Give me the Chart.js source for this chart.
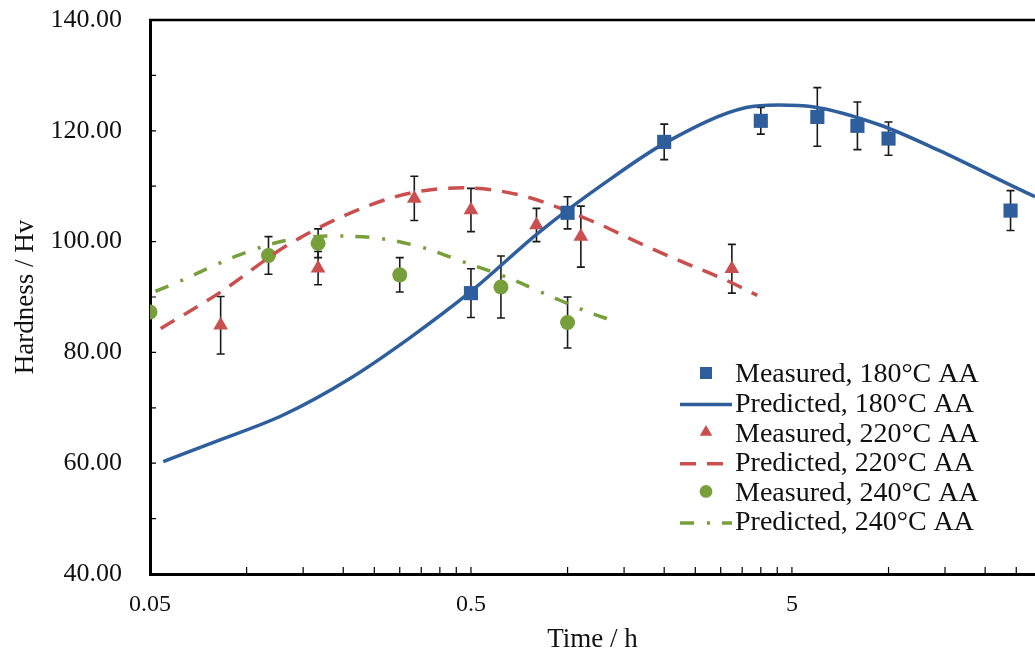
<!DOCTYPE html>
<html>
<head>
<meta charset="utf-8">
<script src="https://cdn.jsdelivr.net/npm/chart.js@4.4.0/dist/chart.umd.min.js"></script>
<style>
  html, body { margin: 0; padding: 0; background: #fff; }
  #wrap { width: 1035px; height: 659px; }
</style>
</head>
<body>
<div id="wrap"><canvas id="myChart"></canvas></div>
<script>
// measured hardness with error bars, time in hours
var time180 = [0.5, 1, 2, 4, 6, 8, 10, 24];
var hard180 = [90.7, 105.2, 118.0, 121.8, 122.5, 120.9, 118.6, 105.6];
var err180 = [4.4, 2.9, 3.2, 2.4, 5.3, 4.3, 3.0, 3.6];

var time220 = [0.083, 0.167, 0.333, 0.5, 0.8, 1.1, 3.25];
var hard220 = [84.9, 95.2, 107.8, 105.7, 103.0, 100.9, 95.1];
var err220 = [5.2, 3.0, 4.0, 3.9, 3.0, 5.5, 4.4];

var time240 = [0.05, 0.117, 0.167, 0.3, 0.62, 1.0];
var hard240 = [87.3, 97.5, 99.7, 94.0, 91.8, 85.4];
var err240 = [0, 3.4, 2.6, 3.1, 5.6, 4.6];

// predicted curves
var predTime180 = [0.055, 0.08, 0.13, 0.21, 0.32, 0.5, 0.82, 1.3, 2.04, 3.6, 4.55, 5.8, 9.4, 14.3, 24, 28.6];
var predHard180 = [60.3, 63.9, 68.7, 75.3, 82.5, 91.0, 101.8, 110.5, 118.0, 124.2, 124.65, 124.35, 121.05, 116.5, 110.2, 108.1];

var predTime220 = [0.054, 0.082, 0.137, 0.24, 0.34, 0.47, 0.71, 1.17, 1.68, 2.1, 3.1, 3.9];
var predHard220 = [84.3, 90.7, 99.7, 106.5, 109.0, 109.7, 108.4, 103.9, 99.7, 97.2, 93.1, 90.3];

var predTime240 = [0.052, 0.06, 0.095, 0.13, 0.18, 0.25, 0.35, 0.47, 0.65, 0.88, 1.17, 1.37];
var predHard240 = [91.0, 92.5, 97.6, 100.1, 101.0, 100.7, 99.0, 96.4, 93.5, 90.2, 87.2, 85.8];

// axis ticks
var xTickValues = [0.05, 0.1, 0.15, 0.2, 0.25, 0.3, 0.35, 0.4, 0.45, 0.5, 1, 1.5, 2, 2.5, 3, 3.5, 4, 4.5, 5, 10, 15, 20, 25];
var xMajor = [0.05, 0.5, 5];
var xTickLabels = ["0.05", "0.5", "5"];
var yTickValues = [40, 50, 60, 70, 80, 90, 100, 110, 120, 130, 140];
var yTickLabels = ["40.00", "", "60.00", "", "80.00", "", "100.00", "", "120.00", "", "140.00"];

var blue = "#2f5e9c", red = "#c9504e", green = "#77a03b";

function pts(xs, ys) {
  return xs.map(function (t, i) { return {x: t, y: ys[i]}; });
}

function marker(ctx, style, x, y, r) {
  ctx.beginPath();
  if (style === "rect") {
    var s = r * Math.SQRT1_2;
    ctx.rect(x - s, y - s, 2 * s, 2 * s);
  } else if (style === "triangle") {
    ctx.moveTo(x, y - r);
    ctx.lineTo(x + r * 0.866, y + r / 2);
    ctx.lineTo(x - r * 0.866, y + r / 2);
    ctx.closePath();
  } else {
    ctx.arc(x, y, r, 0, Math.PI * 2);
  }
  ctx.fill();
}

// no extra room for half labels, keep the plot box fixed
function noPad(s) {
  s.paddingTop = 0; s.paddingBottom = 0; s.paddingLeft = 0; s.paddingRight = 0;
}

var errorBars = {
  id: "errorBars",
  beforeDatasetsDraw: function (chart) {
    var ctx = chart.ctx, xs = chart.scales.x, ys = chart.scales.y;
    ctx.save();
    ctx.strokeStyle = "#1a1a1a";
    ctx.lineWidth = 1.6;
    chart.data.datasets.forEach(function (ds) {
      if (!ds.errors) return;
      ds.data.forEach(function (p, i) {
        var e = ds.errors[i];
        if (!e) return;
        var px = xs.getPixelForValue(p.x);
        var top = ys.getPixelForValue(p.y + e), bot = ys.getPixelForValue(p.y - e);
        ctx.beginPath();
        ctx.moveTo(px, top); ctx.lineTo(px, bot);
        ctx.moveTo(px - 4, top); ctx.lineTo(px + 4, top);
        ctx.moveTo(px - 4, bot); ctx.lineTo(px + 4, bot);
        ctx.stroke();
      });
    });
    ctx.restore();
  }
};

var frame = {
  id: "frame",
  afterDraw: function (chart) {
    var ctx = chart.ctx, a = chart.chartArea;
    var xs = chart.scales.x, ys = chart.scales.y;
    ctx.save();
    ctx.strokeStyle = "#000";
    ctx.lineWidth = 2.5;
    ctx.beginPath();
    ctx.moveTo(a.left - 1, a.top);
    ctx.lineTo(a.right, a.top);
    ctx.stroke();
    ctx.lineWidth = 1.2;
    ctx.beginPath();
    ys.ticks.forEach(function (t) {
      var py = ys.getPixelForValue(t.value);
      ctx.moveTo(a.left, py); ctx.lineTo(a.left + 6, py);
    });
    xs.ticks.forEach(function (t) {
      var px = xs.getPixelForValue(t.value);
      ctx.moveTo(px, a.bottom); ctx.lineTo(px, a.bottom - 7);
    });
    ctx.stroke();
    ctx.restore();
  }
};

var legendBox = {
  id: "legendBox",
  afterDraw: function (chart) {
    var ctx = chart.ctx, a = chart.chartArea;
    var x0 = a.right - 355, y0 = a.bottom - 199, rowH = 29.6;
    ctx.save();
    ctx.font = '28px "Liberation Serif"';
    ctx.textBaseline = "middle";
    chart.data.datasets.forEach(function (ds, i) {
      var cy = y0 + i * rowH;
      if (ds.showLine) {
        ctx.strokeStyle = ds.borderColor;
        ctx.lineWidth = ds.borderWidth;
        ctx.setLineDash(ds.borderDash || []);
        ctx.beginPath();
        ctx.moveTo(x0, cy); ctx.lineTo(x0 + 52, cy);
        ctx.stroke();
        ctx.setLineDash([]);
      } else {
        ctx.fillStyle = ds.backgroundColor;
        marker(ctx, ds.pointStyle, x0 + 26, cy - 2, ds.pointRadius * 0.85);
      }
      ctx.fillStyle = "#111";
      ctx.fillText(ds.label, x0 + 55, cy);
    });
    ctx.restore();
  }
};

new Chart("myChart", {
  type: "scatter",
  data: {
    datasets: [{
      label: "Measured, 180°C AA",
      data: pts(time180, hard180),
      errors: err180,
      pointStyle: "rect",
      pointRadius: 10,
      backgroundColor: blue,
      borderWidth: 0
    }, {
      label: "Predicted, 180°C AA",
      data: pts(predTime180, predHard180),
      showLine: true,
      borderColor: blue,
      borderWidth: 3.5,
      pointRadius: 0,
      cubicInterpolationMode: "monotone"
    }, {
      label: "Measured, 220°C AA",
      data: pts(time220, hard220),
      errors: err220,
      pointStyle: "triangle",
      pointRadius: 8.5,
      backgroundColor: red,
      borderWidth: 0
    }, {
      label: "Predicted, 220°C AA",
      data: pts(predTime220, predHard220),
      showLine: true,
      borderColor: red,
      borderWidth: 3.5,
      borderDash: [16, 11],
      pointRadius: 0,
      cubicInterpolationMode: "monotone"
    }, {
      label: "Measured, 240°C AA",
      data: pts(time240, hard240),
      errors: err240,
      pointStyle: "circle",
      pointRadius: 7.5,
      backgroundColor: green,
      borderWidth: 0
    }, {
      label: "Predicted, 240°C AA",
      data: pts(predTime240, predHard240),
      showLine: true,
      borderColor: green,
      borderWidth: 3.5,
      borderDash: [14, 13, 3, 12],
      pointRadius: 0,
      cubicInterpolationMode: "monotone"
    }]
  },
  options: {
    responsive: true,
    maintainAspectRatio: false,
    animation: false,
    layout: {autoPadding: false, padding: {top: 20, right: 0, left: 0, bottom: 0}},
    plugins: {
      legend: {display: false},
      tooltip: {enabled: false}
    },
    scales: {
      x: {
        type: "logarithmic",
        min: 0.05,
        max: 28.6,
        afterBuildTicks: function (s) { s.ticks = xTickValues.map(function (v) { return {value: v}; }); },
        afterFit: function (s) { s.height = 85; noPad(s); },
        grid: {display: true, color: "rgba(0,0,0,0)", drawTicks: false},
        border: {display: true, color: "#000", width: 3},
        ticks: {
          autoSkip: false,
          maxRotation: 0,
          padding: 16,
          color: "#111",
          font: {family: "Liberation Serif", size: 24},
          callback: function (v) {
            var k = xMajor.indexOf(v);
            return k < 0 ? "" : xTickLabels[k];
          }
        },
        title: {
          display: true,
          text: "Time / h",
          color: "#111",
          font: {family: "Liberation Serif", size: 27},
          padding: {top: 0, bottom: 3}
        }
      },
      y: {
        min: 40,
        max: 140,
        afterBuildTicks: function (s) { s.ticks = yTickValues.map(function (v) { return {value: v}; }); },
        afterFit: function (s) { s.width = 150; noPad(s); },
        grid: {display: true, color: "rgba(0,0,0,0)", drawTicks: false},
        border: {display: true, color: "#000", width: 3},
        ticks: {
          padding: 28,
          color: "#111",
          font: {family: "Liberation Serif", size: 26},
          callback: function (v, i) { return yTickLabels[i]; }
        },
        title: {
          display: true,
          text: "Hardness / Hv",
          color: "#111",
          font: {family: "Liberation Serif", size: 27},
          padding: {top: 10, bottom: 0}
        }
      }
    }
  },
  plugins: [errorBars, frame, legendBox]
});
</script>
</body>
</html>
